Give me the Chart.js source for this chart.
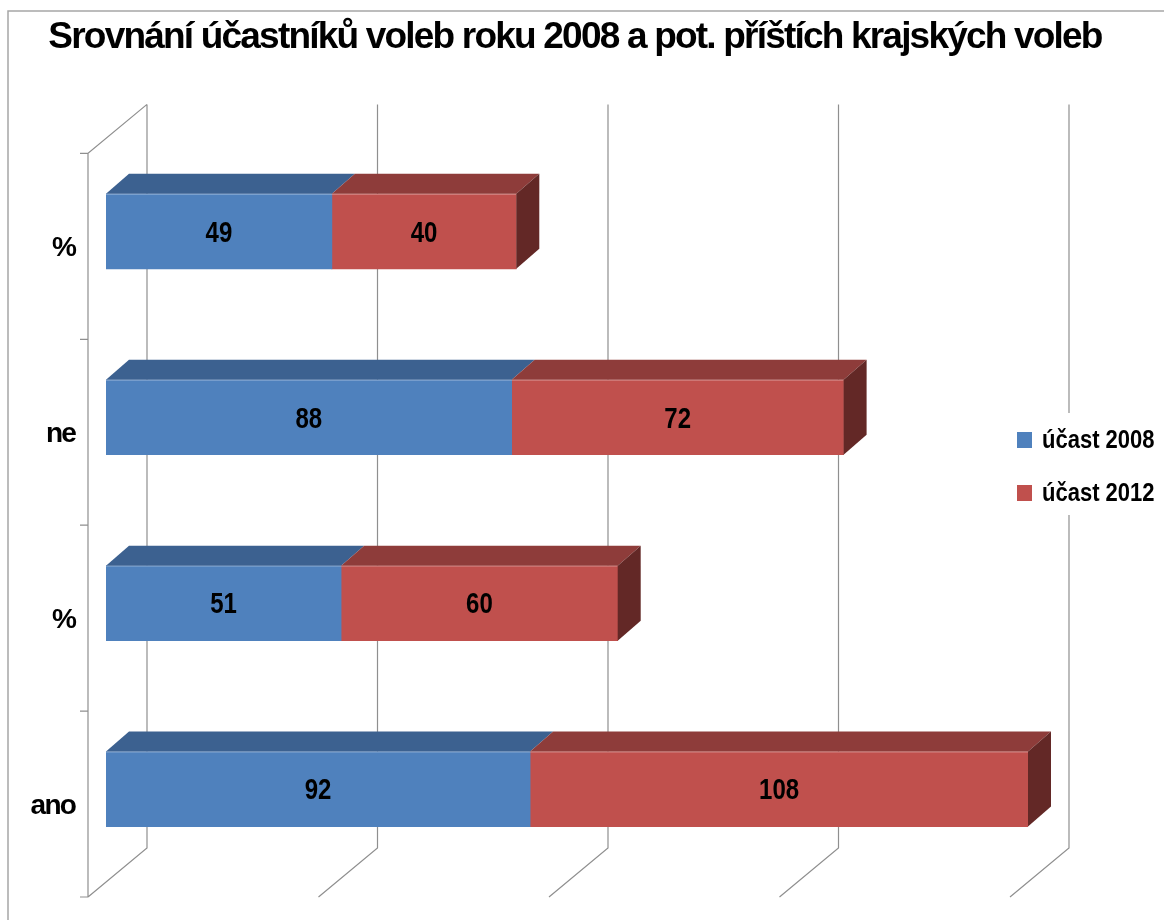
<!DOCTYPE html>
<html lang="cs">
<head>
  <meta charset="UTF-8" />
  <title>Srovnání účastníků voleb</title>
  <script src="https://cdn.jsdelivr.net/npm/chart.js"></script>
  <style>
    html, body { margin: 0; padding: 0; background: #fff; }
    #obal { position: relative; width: 1164px; height: 920px; }
  </style>
</head>
<body>

<div id="obal"><canvas id="graf"></canvas></div>

<script>
  const kategorie = ['%', 'ne', '%', 'ano'];
  const ucast2008 = [49, 88, 51, 92];
  const ucast2012 = [40, 72, 60, 108];
  const mrizka = [0, 50, 100, 150, 200];

  const PISMO = "'Liberation Sans', Arial, sans-serif";

  // posuny pro 3D efekt (zadní stěna, přední hrana podlahy, hloubka sloupce)
  const ZADNI = { dx: 41, dy: -34 };
  const PREDNI = { dx: -18, dy: 15 };
  const HLOUBKA = { dx: 23, dy: -20 };

  Chart.defaults.font.family = PISMO;

  // zúžené písmo: text se stáhne na danou část své šířky
  function uzkyText(ctx, text, x, y, pomer) {
    ctx.fillText(text, x, y, ctx.measureText(text).width * pomer);
  }

  const prostor3d = {
    id: 'prostor3d',
    beforeDraw(chart) {
      const ctx = chart.ctx;
      // titulek a popisky osy jsou v originále hodně nahusto
      ctx.letterSpacing = '-1.8px';
      ctx.save();
      ctx.strokeStyle = '#A6A6A6';
      ctx.lineWidth = 1.5;
      ctx.beginPath();
      ctx.moveTo(8, 920);
      ctx.lineTo(8, 11);
      ctx.lineTo(1164, 11);
      ctx.stroke();
      ctx.restore();
    },
    beforeDatasetsDraw(chart) {
      const { ctx, chartArea: a, scales: { x, y } } = chart;
      ctx.letterSpacing = '0px';
      const x0 = x.getPixelForValue(0);
      ctx.save();
      ctx.strokeStyle = '#8F8F8F';
      ctx.lineWidth = 1.2;
      ctx.beginPath();
      // mřížka na zadní stěně a podlaze
      mrizka.forEach(v => {
        const px = x.getPixelForValue(v);
        ctx.moveTo(px + ZADNI.dx, a.top + ZADNI.dy);
        ctx.lineTo(px + ZADNI.dx, a.bottom + ZADNI.dy);
        ctx.lineTo(px + PREDNI.dx, a.bottom + PREDNI.dy);
      });
      // levá stěna
      ctx.moveTo(x0 + ZADNI.dx, a.top + ZADNI.dy);
      ctx.lineTo(x0 + PREDNI.dx, a.top + PREDNI.dy);
      ctx.lineTo(x0 + PREDNI.dx, a.bottom + PREDNI.dy);
      // značky mezi kategoriemi
      for (let i = 0; i <= kategorie.length; i++) {
        const py = y.getPixelForValue(i - 0.5) + PREDNI.dy;
        ctx.moveTo(x0 + PREDNI.dx - 8, py);
        ctx.lineTo(x0 + PREDNI.dx, py);
      }
      ctx.stroke();
      ctx.restore();
    },
    afterDatasetsDraw(chart) {
      const ctx = chart.ctx;
      const posledni = chart.data.datasets.length - 1;
      ctx.save();
      chart.data.datasets.forEach((ds, di) => {
        chart.getDatasetMeta(di).data.forEach(bar => {
          const { x, y, base, height } = bar.getProps(['x', 'y', 'base', 'height'], true);
          const t = y - height / 2, b = y + height / 2;
          // horní plocha
          ctx.fillStyle = ds.barvaVrch;
          ctx.beginPath();
          ctx.moveTo(base, t);
          ctx.lineTo(x, t);
          ctx.lineTo(x + HLOUBKA.dx, t + HLOUBKA.dy);
          ctx.lineTo(base + HLOUBKA.dx, t + HLOUBKA.dy);
          ctx.closePath();
          ctx.fill();
          // světlá hrana
          ctx.strokeStyle = 'rgba(255,255,255,0.3)';
          ctx.lineWidth = 1;
          ctx.beginPath();
          ctx.moveTo(base, t + 0.5);
          ctx.lineTo(x, t + 0.5);
          ctx.stroke();
          // boční plocha jen u posledního sloupce
          if (di === posledni) {
            ctx.fillStyle = ds.barvaBok;
            ctx.beginPath();
            ctx.moveTo(x, t);
            ctx.lineTo(x + HLOUBKA.dx, t + HLOUBKA.dy);
            ctx.lineTo(x + HLOUBKA.dx, b + HLOUBKA.dy);
            ctx.lineTo(x, b);
            ctx.closePath();
            ctx.fill();
          }
        });
      });
      // popisky hodnot
      ctx.fillStyle = '#000';
      ctx.font = 'bold 30px ' + PISMO;
      ctx.textAlign = 'center';
      ctx.textBaseline = 'middle';
      chart.data.datasets.forEach((ds, di) => {
        chart.getDatasetMeta(di).data.forEach((bar, i) => {
          const { x, y, base } = bar.getProps(['x', 'y', 'base'], true);
          uzkyText(ctx, String(ds.data[i]), (x + base) / 2, y + 2, 0.8);
        });
      });
      ctx.restore();
    },
    afterDraw(chart) {
      const ctx = chart.ctx;
      ctx.save();
      ctx.fillStyle = '#fff';
      ctx.fillRect(1008, 413, 156, 102);
      ctx.font = 'bold 25px ' + PISMO;
      ctx.textAlign = 'left';
      ctx.textBaseline = 'middle';
      chart.data.datasets.forEach((ds, di) => {
        const py = 440 + di * 53;
        ctx.fillStyle = ds.backgroundColor;
        ctx.fillRect(1017, py - 8, 15, 16);
        ctx.fillStyle = '#000';
        uzkyText(ctx, ds.label, 1042, py + 1, 0.88);
      });
      ctx.restore();
    }
  };

  new Chart(document.getElementById('graf'), {
    type: 'bar',
    data: {
      labels: kategorie,
      datasets: [
        { label: 'účast 2008', data: ucast2008, backgroundColor: '#4F81BD', barvaVrch: '#3C6190', barvaBok: '#2B4668' },
        { label: 'účast 2012', data: ucast2012, backgroundColor: '#C0504D', barvaVrch: '#8E3C3A', barvaBok: '#632826' }
      ]
    },
    options: {
      indexAxis: 'y',
      responsive: true,
      maintainAspectRatio: false,
      animation: false,
      barThickness: 75,
      borderWidth: 0,
      layout: { padding: { left: 30, right: 44, top: 0, bottom: 38 } },
      plugins: {
        legend: { display: false },
        tooltip: { enabled: false },
        title: {
          display: true,
          text: 'Srovnání účastníků voleb roku 2008 a pot. příštích krajských voleb',
          color: '#000',
          font: { size: 37, weight: 'bold', lineHeight: 1.2 },
          padding: { top: 16, bottom: 78 }
        }
      },
      scales: {
        x: { stacked: true, min: 0, max: 200, display: false },
        y: {
          stacked: true,
          grid: { display: false, drawTicks: false },
          border: { display: false },
          ticks: { color: '#000', font: { size: 28, weight: 'bold' }, padding: 31, labelOffset: 17, autoSkip: false },
          afterFit(s) {
            s.width = 76;
            s.paddingTop = 0;
            s.paddingBottom = 0;
          }
        },
        prava: {
          type: 'linear',
          position: 'right',
          grid: { display: false, drawTicks: false },
          border: { display: false },
          ticks: { display: false },
          afterFit(s) {
            s.width = 92;
            s.paddingTop = 0;
            s.paddingBottom = 0;
          }
        }
      }
    },
    plugins: [prostor3d]
  });
</script>

</body>
</html>
